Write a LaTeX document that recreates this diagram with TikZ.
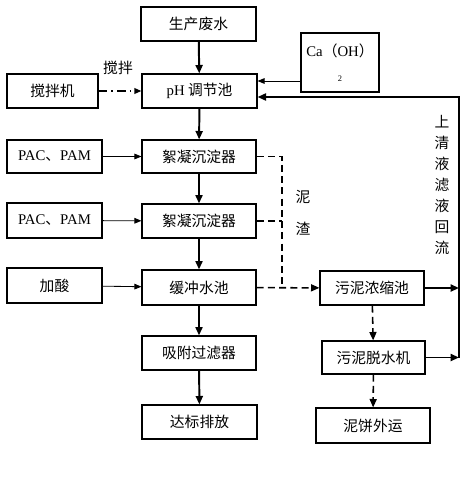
\documentclass[tikz,border=0pt]{standalone}
\usepackage{fontspec}
\setmainfont{Liberation Serif}
\newfontfamily\cjk{Noto Sans CJK SC}
\usetikzlibrary{arrows.meta}

\tikzset{
  unit/.style={draw, line width=0.8pt, minimum width=115\pxu, minimum height=34\pxu,
    inner sep=0pt, font=\fontsize{10.5}{12}\selectfont\cjk},
  feed/.style={-{Triangle[length=5pt,width=4pt]}, line width=0.6pt},
  flow/.style={-{Triangle[length=6pt,width=5pt]}, line width=1.4pt},
  sludge/.style={line width=1.1pt, dash pattern=on 5pt off 3pt},
  note/.style={font=\fontsize{10.5}{13}\selectfont\cjk, align=center, inner sep=0pt},
}
\newcommand{\pxu}{*0.025cm}

\begin{document}
\begin{tikzpicture}[x=0.025cm, y=-0.025cm]
\useasboundingbox (0,0) rectangle (466,491);

\node[unit] (waste) at (198.5,24) {生产废水};
\node[unit, minimum width=78\pxu, minimum height=59\pxu, align=center, font=\fontsize{10.5}{12}\selectfont] (lime) at (340,62.5)
  {Ca{\cjk（}OH{\cjk）}\\[6pt]{\fontsize{6}{6}\selectfont 2}};
\node[unit, minimum width=91\pxu] (mixer) at (52.5,91) {搅拌机};
\node[unit] (ph) at (199.5,91) {{\rmfamily pH} 调节池};
\node[unit, minimum width=95\pxu, minimum height=33\pxu, font=\fontsize{10.5}{12}\selectfont] (pacA) at (54.5,156.5) {PAC{\cjk 、}PAM};
\node[unit, minimum width=114\pxu, minimum height=33\pxu] (flocA) at (199,156.5) {絮凝沉淀器};
\node[unit, minimum width=95\pxu, minimum height=35\pxu, font=\fontsize{10.5}{12}\selectfont] (pacB) at (54.5,220.5) {PAC{\cjk 、}PAM};
\node[unit, minimum width=114\pxu] (flocB) at (199,221) {絮凝沉淀器};
\node[unit, minimum width=95\pxu, minimum height=35\pxu] (acid) at (54.5,285.5) {加酸};
\node[unit, minimum width=114\pxu, minimum height=35\pxu] (buffer) at (199,287.5) {缓冲水池};
\node[unit, minimum width=104\pxu] (thicken) at (372,288) {污泥浓缩池};
\node[unit, minimum width=114\pxu] (filter) at (199,353) {吸附过滤器};
\node[unit] (outlet) at (199.5,422) {达标排放};
\node[unit, minimum width=103\pxu, minimum height=33\pxu] (dewater) at (373.5,357.5) {污泥脱水机};
\node[unit, minimum width=114\pxu, minimum height=35\pxu] (cake) at (373,425.5) {泥饼外运};

\node[note] (stir) at (118,68) {搅拌};
\node[note] (slag) at (303,213) {泥\\[10pt]渣};
\node[note, font=\fontsize{10.5}{15}\selectfont\cjk] (reflux) at (442,185) {上\\清\\液\\滤\\液\\回\\流};

\coordinate (jn) at (282,287.5);
\coordinate (rt) at (459,97);
\coordinate (ra) at (459,288);
\coordinate (rb) at (459,357.5);

\draw[flow] (waste) -- (ph);
\draw[flow] (ph) -- (flocA);
\draw[flow] (flocA) -- (flocB);
\draw[flow] (flocB) -- (buffer);
\draw[flow] (buffer) -- (filter);
\draw[flow] (filter) -- (outlet);

\draw[feed, line width=1.1pt, dash pattern=on 6pt off 3pt on 1.2pt off 3pt] (mixer) -- (ph);
\draw[feed] (lime.west |- 0,81) -- (ph.east |- 0,81);
\draw[feed] (pacA) -- (flocA);
\draw[feed] (pacB) -- (flocB);
\draw[feed] (acid) -- (buffer);

\draw[sludge] (flocA.east) -| (jn);
\draw[sludge] (flocB.east) -- (flocB.east -| jn);
\draw[sludge, -{Triangle[length=6pt,width=5pt]}] (buffer) -- (thicken);
\draw[sludge, -{Triangle[length=6pt,width=5pt]}] (thicken) -- (dewater);
\draw[sludge, -{Triangle[length=6pt,width=5pt]}] (dewater) -- (cake);

\draw[flow] (thicken) -- (ra);
\draw[flow] (dewater) -- (rb);
\draw[flow] (rb) -- (rt) -- (ph.east |- rt);
\end{tikzpicture}
\end{document}
